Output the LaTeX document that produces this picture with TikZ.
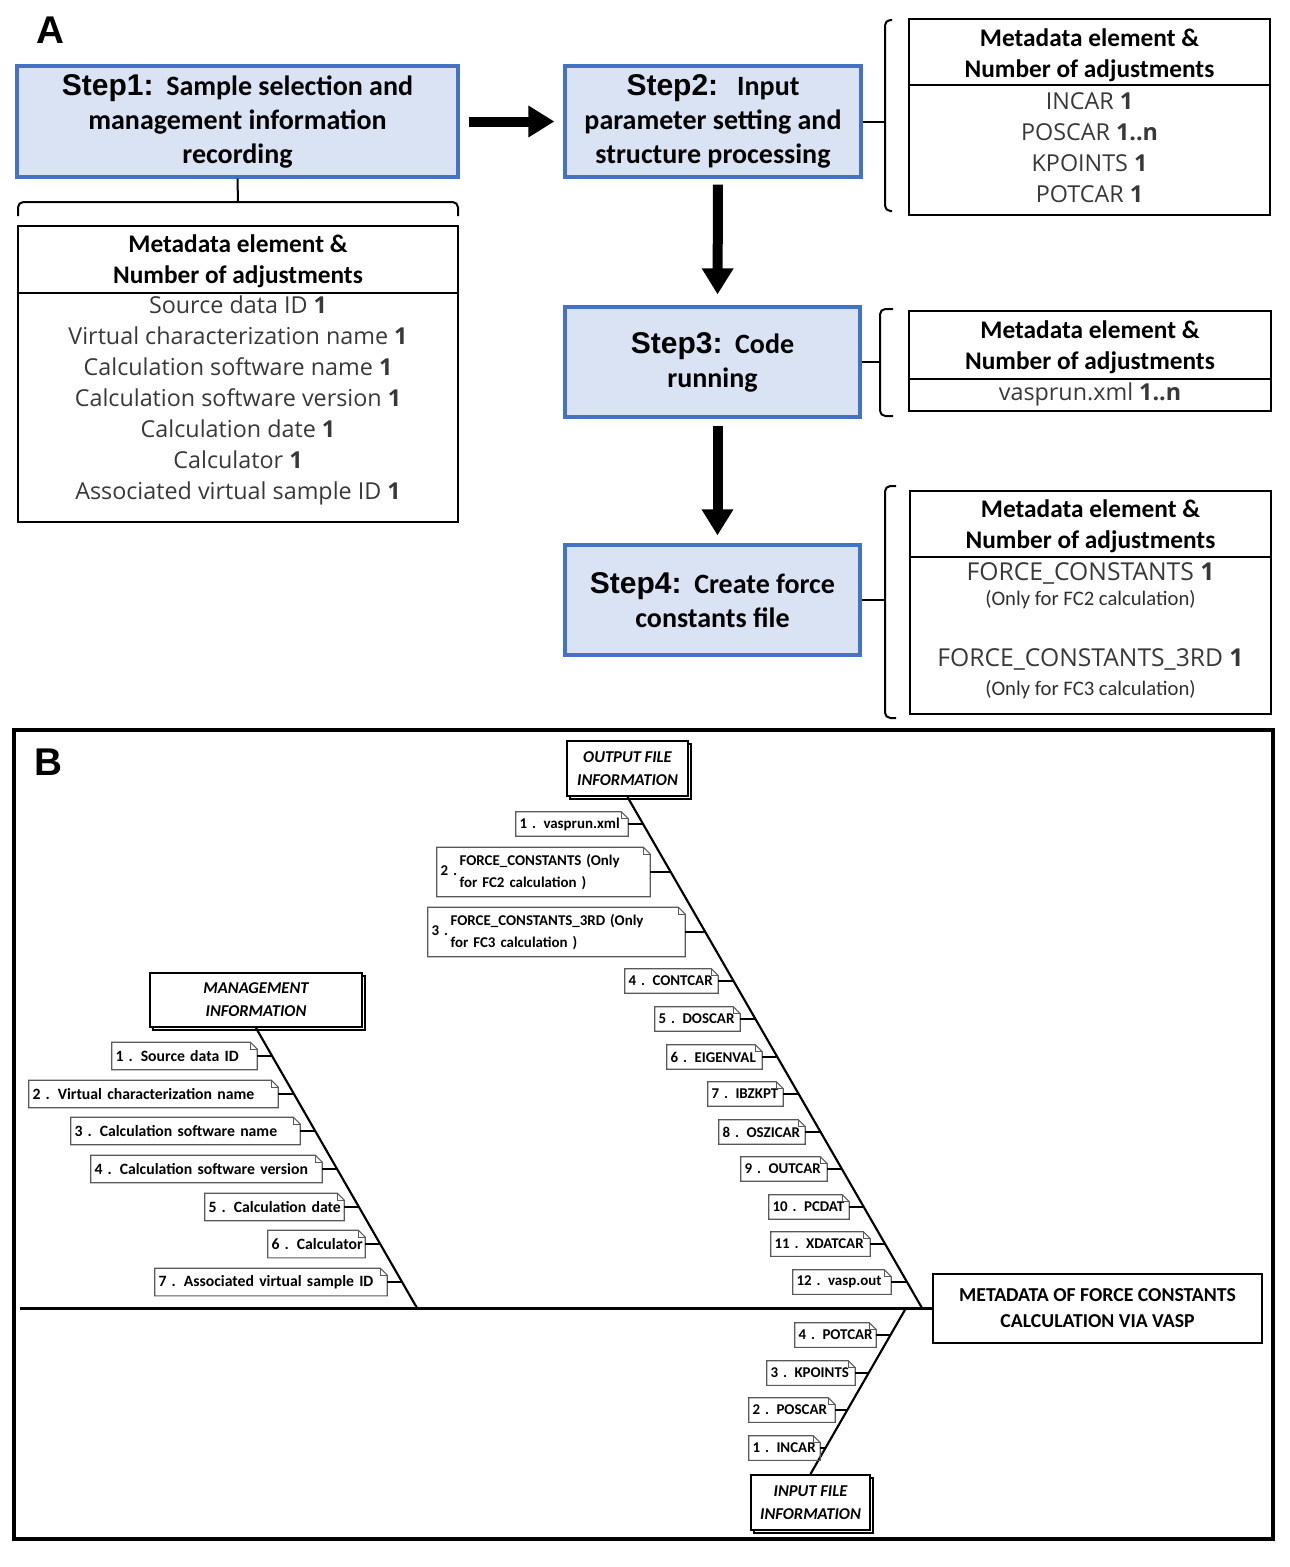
\documentclass[tikz,border=0pt]{standalone}
\usepackage{fontspec}
\setmainfont{Carlito}
\newfontfamily\arialf{Liberation Sans}
\newfontfamily\itemf{Open Sans}
\usetikzlibrary{arrows.meta,calc,shadows}
\definecolor{stepfill}{RGB}{218,227,243}
\definecolor{stepdraw}{RGB}{68,114,196}
\newcommand\nb[1]{{\bfseries #1}}
\newcommand\stp[1]{{\arialf\bfseries\fontsize{22.5}{25.5}\selectfont #1:}\ \ }
\newcommand\mylblfont{\fontsize{11.8}{16.5}\selectfont}
\newcommand\notelabel[6]{%
  \pgfmathsetmacro\mylw{(#3-#2)*0.75}%
  \pgfmathsetmacro\mytw{(#3-#2-7)*0.75}%
  \pgfmathsetmacro\mylh{#5*0.75}%
  \node[notelbl, minimum width=\mylw pt, minimum height=\mylh pt, text width=\mytw pt] (#1) at ({(#2+#3)/2},#4) {\mbox{#6}};
  \draw[noteline] (#1.north west) -- ($(#1.north east)+(-7,0)$) -- ($(#1.north east)+(0,7)$) -- (#1.south east) -- (#1.south west) -- cycle;
  \draw[noteline] ($(#1.north east)+(-7,0)$) -- ($(#1.north east)+(-7,7)$) -- ($(#1.north east)+(0,7)$);
}
\newcommand\ribto[6]{%
  \pgfmathsetmacro\mybx{#3+(#2-#4)/(#6-#4)*(#5-#3)}%
  \coordinate (#1b) at (\mybx,#2);
  \draw[rib] (#1.east) -- (#1b);
}
\begin{document}
\begin{tikzpicture}[x=0.75pt,y=-0.75pt,
  stepbox/.style={draw=stepdraw, fill=stepfill, line width=2.4pt, align=center, inner sep=0pt,
    font=\fontsize{21}{25.5}\selectfont\bfseries},
  bigarrow/.style={line width=7.5pt, -{Triangle[length=19.5pt,width=22.5pt]}},
  metabox/.style={draw, line width=2.2pt, inner sep=0pt},
  metaline/.style={line width=2.2pt},
  metahead/.style={align=center, font=\fontsize{19}{23.25}\selectfont\bfseries, inner sep=0pt},
  metaitem/.style={align=center, font=\itemf\fontsize{17.5}{23.25}\selectfont, text=black!78, inner sep=0pt},
  metabig/.style={align=center, font=\itemf\fontsize{18.5}{23.25}\selectfont, text=black!78, inner sep=0pt},
  metasmall/.style={align=center, font=\fontsize{15.5}{17}\selectfont, text=black!82, inner sep=0pt},
  brace/.style={line width=1.5pt, rounded corners=4pt},
  notelbl/.style={font=\mylblfont\bfseries, inner xsep=2.6pt, inner ysep=0pt, align=left},
  noteline/.style={draw=black!65, line width=0.8pt},
  rib/.style={line width=2.2pt},
  bone/.style={line width=1.6pt},
  spine/.style={line width=2.6pt},
  titlebox/.style={draw, fill=white, line width=1.5pt, align=center, inner sep=0pt,
    font=\fontsize{12.4}{17.25}\selectfont\bfseries\itshape,
    copy shadow={shadow xshift=2.25pt, shadow yshift=-2.25pt}},
  headbox/.style={draw, line width=1.9pt, align=center, inner sep=0pt,
    font=\fontsize{14.8}{19.5}\selectfont\bfseries},
  panel/.style={font=\arialf\bfseries\fontsize{29}{30}\selectfont, inner sep=0pt}
]
\useasboundingbox (0,0) rectangle (1289,1567);

% ---------------- Panel A ----------------
\node[panel] (labA) at (50,30) {A};

\node[stepbox, minimum width=330.75pt, minimum height=83.25pt] (step1) at (237.5,121.5)
  {\stp{Step1}Sample selection and\\management information\\recording};
\node[stepbox, minimum width=222pt, minimum height=83.25pt] (step2) at (713,121.5)
  {\stp{Step2}\ Input\\parameter setting and\\structure processing};
\node[stepbox, minimum width=221.25pt, minimum height=82.5pt] (step3) at (712.5,362)
  {\stp{Step3}Code\\running};
\node[stepbox, minimum width=221.25pt, minimum height=82.5pt] (step4) at (712.5,600)
  {\stp{Step4}Create force\\constants file};

\draw[bigarrow, shorten <=6.75pt, shorten >=6.75pt] (step1.east) -- (step2.west);
\draw[bigarrow, shorten <=4.5pt, shorten >=8.25pt] ([xshift=3.75pt]step2.south) -- ([xshift=3.75pt]step3.north);
\draw[bigarrow, shorten <=5.25pt, shorten >=6pt] ([xshift=3.75pt]step3.south) -- ([xshift=3.75pt]step4.north);

% brace under step 1
\coordinate (b1m) at (238,202);
\draw[brace] (step1.south) -- (b1m);
\draw[brace] (18,216) -- (18,202) -- (458,202) -- (458,216);

% metadata box step 1
\node[metabox, minimum width=330pt, minimum height=222pt] (mb1) at (238,374) {};
\draw[metaline] (18,293) -- (458,293);
\node[metahead] (mh1) at (238,261.5) {Metadata element \&\\Number of adjustments};
\node[metaitem] (mi1) at (238,400) {Source data ID \nb{1}\\Virtual characterization name \nb{1}\\Calculation software name \nb{1}\\Calculation software version \nb{1}\\Calculation date \nb{1}\\Calculator \nb{1}\\Associated virtual sample ID \nb{1}};

% brace step 2
\coordinate (b2m) at (885,121.5);
\draw[brace] (step2.east) -- (b2m);
\draw[brace] (892,20) -- (885,20) -- (885,211) -- (892,211);
\node[metabox, minimum width=270.75pt, minimum height=147pt] (mb2) at (1089.5,117) {};
\draw[metaline] (909,85) -- (1270,85);
\node[metahead] (mh2) at (1089.5,55.5) {Metadata element \&\\Number of adjustments};
\node[metaitem] (mi2) at (1089.5,147.5) {INCAR \nb{1}\\POSCAR \nb{1..n}\\KPOINTS \nb{1}\\POTCAR \nb{1}};

% brace step 3
\coordinate (b3m) at (880,362);
\draw[brace] (step3.east) -- (b3m);
\draw[brace] (893,309) -- (880,309) -- (880,416) -- (893,416);
\node[metabox, minimum width=271.5pt, minimum height=75pt] (mb3) at (1090,361) {};
\draw[metaline] (909,379) -- (1271,379);
\node[metahead] (mh3) at (1090,347.5) {Metadata element \&\\Number of adjustments};
\node[metaitem] (mi3) at (1090,394) {vasprun.xml \nb{1..n}};

% brace step 4
\coordinate (b4m) at (885,600);
\draw[brace] (step4.east) -- (b4m);
\draw[brace] (896,486) -- (885,486) -- (885,718) -- (896,718);
\node[metabox, minimum width=270.75pt, minimum height=167.25pt] (mb4) at (1090.5,602.5) {};
\draw[metaline] (910,557) -- (1271,557);
\node[metahead] (mh4) at (1090.5,526.5) {Metadata element \&\\Number of adjustments};
\node[metabig] (mi4a) at (1090.5,573) {FORCE\_CONSTANTS \nb{1}};
\node[metasmall] (mi4b) at (1090.5,600) {(Only for FC2 calculation)};
\node[metabig] (mi4c) at (1090.5,659) {FORCE\_CONSTANTS\_3RD \nb{1}};
\node[metasmall] (mi4d) at (1090.5,690) {(Only for FC3 calculation)};

% ---------------- Panel B ----------------
\draw[line width=3pt] (14,730) rectangle (1273,1539);
\node[panel] (labB) at (48,762) {B};

\node[headbox, minimum width=246.75pt, minimum height=51.75pt] (head) at (1097.5,1308.5)
  {METADATA OF FORCE CONSTANTS\\CALCULATION VIA VASP};
\coordinate (spst) at (20,1308.5);
\draw[spine] (spst) -- (head.west);

\node[titlebox, minimum width=159pt, minimum height=40.5pt] (mtitle) at (256,1000) {MANAGEMENT\\INFORMATION};
\node[titlebox, minimum width=90.75pt, minimum height=41.25pt] (otitle) at (627.5,768.5) {OUTPUT FILE\\INFORMATION};
\node[titlebox, minimum width=89.25pt, minimum height=41.25pt] (ititle) at (810.5,1502.5) {INPUT FILE\\INFORMATION};

\coordinate (mend) at (417,1308);
\coordinate (oend) at (922,1308);
\coordinate (iend) at (906,1308);
\draw[bone] (mtitle.south) -- (mend);
\draw[bone] (otitle.south) -- (oend);
\draw[bone] (ititle.north) -- (iend);

% management labels
\notelabel{m1}{112}{257}{1056}{27}{1 . Source data ID}
\notelabel{m2}{29}{278}{1094}{27}{2 . Virtual characterization name}
\notelabel{m3}{71}{300}{1131}{27}{3 . Calculation software name}
\notelabel{m4}{91}{322}{1169}{27}{4 . Calculation software version}
\notelabel{m5}{205}{344}{1207}{27}{5 . Calculation date}
\notelabel{m6}{268}{365}{1244}{27}{6 . Calculator}
\notelabel{m7}{155}{387}{1282}{27}{7 . Associated virtual sample ID}
\foreach \n/\y in {m1/1056,m2/1094,m3/1131,m4/1169,m5/1207,m6/1244,m7/1282}
  {\ribto{\n}{\y}{256}{1027}{417}{1308}}

% output labels
\renewcommand\mylblfont{\fontsize{11.2}{16.5}\selectfont}
\notelabel{o1}{516}{628}{824}{24}{1 . vasprun.xml}
\notelabel{o2}{437}{650}{872}{49}{2 .\,\begin{tabular}[c]{@{}l@{}}FORCE\_CONSTANTS (Only\\for FC2 calculation )\end{tabular}}
\notelabel{o3}{428}{685}{932}{49}{3 .\,\begin{tabular}[c]{@{}l@{}}FORCE\_CONSTANTS\_3RD (Only\\for FC3 calculation )\end{tabular}}
\notelabel{o4}{625}{718}{981}{24}{4 . CONTCAR}
\notelabel{o5}{655}{740}{1019}{24}{5 . DOSCAR}
\notelabel{o6}{667}{762}{1057}{24}{6 . EIGENVAL}
\notelabel{o7}{708}{783}{1094}{24}{7 . IBZKPT}
\notelabel{o8}{719}{805}{1132}{24}{8 . OSZICAR}
\notelabel{o9}{741}{827}{1169}{24}{9 . OUTCAR}
\notelabel{o10}{769}{849}{1207}{24}{10 . PCDAT}
\notelabel{o11}{771}{870}{1244}{24}{11 . XDATCAR}
\notelabel{o12}{793}{891}{1282}{24}{12 . vasp.out}

% input labels
\notelabel{i4}{795}{876}{1335}{24}{4 . POTCAR}
\notelabel{i3}{767}{855}{1373}{24}{3 . KPOINTS}
\notelabel{i2}{749}{835}{1410}{24}{2 . POSCAR}
\notelabel{i1}{749}{820}{1448}{24}{1 . INCAR}
\foreach \n/\y in {o1/824,o2/872,o3/932,o4/981,o5/1019,o6/1057,o7/1094,o8/1132,o9/1169,o10/1207,o11/1244,o12/1282}
  {\ribto{\n}{\y}{627.5}{796}{922}{1308}}
\foreach \n/\y in {i4/1335,i3/1373,i2/1410,i1/1448}
  {\ribto{\n}{\y}{810.5}{1475}{906}{1308}}
\end{tikzpicture}
\end{document}
